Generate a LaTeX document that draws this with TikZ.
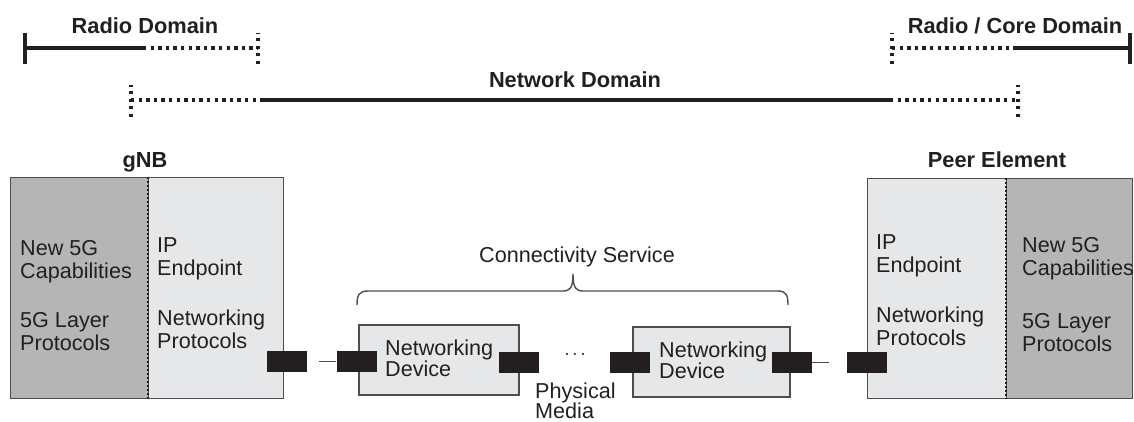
\documentclass[tikz,border=0pt]{standalone}
\usepackage{fontspec}
\setmainfont{Liberation Sans}
\definecolor{ink}{HTML}{231F20}
\definecolor{darkfill}{HTML}{B5B5B6}
\definecolor{lightfill}{HTML}{E6E7E8}
\definecolor{edge}{HTML}{4D4D4F}
\tikzset{
  lbl/.style={font=\fontsize{21.6}{23}\selectfont, text=ink, inner sep=0pt, align=left, anchor=base west},
  title/.style={font=\fontsize{21.8}{23}\selectfont\bfseries, text=ink, inner sep=0pt, anchor=base},
  solidrule/.style={draw=ink, line width=3.2pt},
  dotrule/.style={draw=ink, line width=3.3pt, dash pattern=on 3.3pt off 4.3pt},
  halfbox/.style={draw=edge, line width=1.4pt, inner sep=0pt, anchor=north west},
  devbox/.style={draw=edge, line width=1.4pt, fill=lightfill, inner sep=0pt, minimum width=160pt, minimum height=70pt},
  port/.style={fill=ink, inner sep=0pt, minimum width=40pt, minimum height=21pt},
  divider/.style={draw=ink, line width=2.6pt, dash pattern=on 2pt off 2pt},
  link/.style={draw=edge, line width=1.4pt},
  bracepath/.style={draw=edge, line width=1.4pt, line join=round}
}
\begin{document}
\begin{tikzpicture}[x=1pt,y=-1pt]
\useasboundingbox (0,0) rectangle (1134,421);

% ---- domain rulers ----
\coordinate (rdA) at (25,48);  \coordinate (rdB) at (143,48); \coordinate (rdC) at (258,48);
\coordinate (ndA) at (131,100); \coordinate (ndB) at (260,100); \coordinate (ndC) at (890,100); \coordinate (ndD) at (1018,100);
\coordinate (cdA) at (892,48); \coordinate (cdB) at (1013,48); \coordinate (cdC) at (1130,48);

\draw[solidrule] (rdA) -- (rdB);
\draw[dotrule] (rdB) -- (rdC);
\draw[solidrule] ([yshift=-16pt]rdA) -- ([yshift=15pt]rdA);
\draw[dotrule] ([yshift=-16pt]rdC) -- ([yshift=15pt]rdC);

\draw[dotrule] (ndA) -- (ndB);
\draw[solidrule] (ndB) -- (ndC);
\draw[dotrule] (ndC) -- (ndD);
\draw[dotrule] ([yshift=-17pt]ndA) -- ([yshift=15pt]ndA);
\draw[dotrule] ([yshift=-17pt]ndD) -- ([yshift=15pt]ndD);

\draw[dotrule] (cdA) -- (cdB);
\draw[solidrule] (cdB) -- (cdC);
\draw[dotrule] ([yshift=-16pt]cdA) -- ([yshift=15pt]cdA);
\draw[solidrule] ([yshift=-16pt]cdC) -- ([yshift=15pt]cdC);

\node[title] (tRadio) at (145,33) {Radio Domain};
\node[title] (tCore) at (1015,33) {Radio / Core Domain};
\node[title] (tNet) at (575,87) {Network Domain};

% ---- gNB ----
\node[halfbox, fill=darkfill, minimum width=138pt, minimum height=221pt] (gnbL) at (10,177) {};
\node[halfbox, fill=lightfill, minimum width=135pt, minimum height=221pt] (gnbR) at (148,177) {};
\draw[divider] (gnbR.north west) -- (gnbR.south west);
\node[title] (tGnb) at (145,167) {gNB};
% multi-line labels are placed by the baseline of their last line
\node[lbl] (g1) at (20,278) {New 5G\\Capabilities};
\node[lbl] (g2) at (20,350) {5G Layer\\Protocols};
\node[lbl] (g3) at (157,275) {IP\\Endpoint};
\node[lbl] (g4) at (157,348) {Networking\\Protocols};

% ---- peer element ----
\node[halfbox, fill=lightfill, minimum width=139pt, minimum height=220pt] (peerL) at (867,178) {};
\node[halfbox, fill=darkfill, minimum width=126pt, minimum height=220pt] (peerR) at (1006,178) {};
\draw[divider] (peerR.north west) -- (peerR.south west);
\node[title] (tPeer) at (997,167) {Peer Element};
\node[lbl] (p1) at (876,272) {IP\\Endpoint};
\node[lbl] (p2) at (876,345) {Networking\\Protocols};
\node[lbl] (p3) at (1022,275) {New 5G\\Capabilities};
\node[lbl] (p4) at (1022,351) {5G Layer\\Protocols};

% ---- networking devices ----
\node[devbox] (dev1) at (439,360) {};
\node[devbox, minimum width=157pt] (dev2) at (711.5,362) {};
\node[lbl, font=\fontsize{21.6}{21}\selectfont] (d1) at (385,376) {Networking\\Device};
\node[lbl, font=\fontsize{21.6}{21}\selectfont] (d2) at (659,378) {Networking\\Device};

% ---- ports ----
\node[port] (port1) at (286.5,361.5) {};
\node[port] (port2) at (356.5,361.5) {};
\node[port] (port3) at (518.5,362.5) {};
\node[port] (port4) at (630,362.5) {};
\node[port] (port5) at (792,362.5) {};
\node[port] (port6) at (867,362.5) {};

\coordinate (linkA) at (319,361.5);
\coordinate (linkB) at (829,362.5);
\draw[link] (linkA) -- (port2.west);
\draw[link] (port5.east) -- (linkB);

\node[lbl, anchor=base, font=\fontsize{18}{20}\selectfont] (dots) at (575,355) {.\,.\,.};
\node[lbl, font=\fontsize{21.6}{20.5}\selectfont] (media) at (535,418.5) {Physical\\Media};

% ---- connectivity service brace ----
\draw[bracepath] (357,305) .. controls (357,295) and (359,291) .. (368,291)
  -- (563,291) .. controls (570,291) and (573,288) .. (573,274)
  .. controls (573,288) and (576,291) .. (583,291)
  -- (778,291) .. controls (786,291) and (788,295) .. (788,305);
\node[lbl, anchor=base] (tConn) at (577,262) {Connectivity Service};
\end{tikzpicture}
\end{document}
